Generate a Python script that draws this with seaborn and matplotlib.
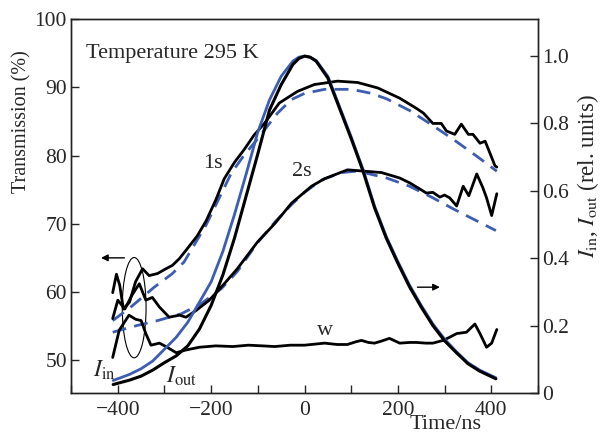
import numpy as np
import pandas as pd
import seaborn as sns
import matplotlib.pyplot as plt
from matplotlib.patches import Ellipse
from matplotlib.ticker import MultipleLocator, FixedLocator, FixedFormatter

# pulse shapes, right axis (rel. units)
t_pulse = [-410, -375, -350, -325, -300, -275, -250, -225, -200, -175, -150, -125, -100,
           -75, -50, -25, -12, 0, 12, 25, 50, 75, 100, 125, 150, 175, 200, 225, 250, 275, 300,
           325, 350, 375, 410]
i_in = [0.037, 0.055, 0.072, 0.095, 0.13, 0.165, 0.21, 0.27, 0.33, 0.42, 0.53, 0.65, 0.775,
        0.87, 0.94, 0.985, 0.997, 1.0, 0.996, 0.987, 0.94, 0.85, 0.76, 0.665, 0.555, 0.465,
        0.39, 0.32, 0.26, 0.205, 0.16, 0.123, 0.09, 0.068, 0.045]
i_out = [0.025, 0.038, 0.05, 0.068, 0.09, 0.11, 0.14, 0.19, 0.26, 0.35, 0.46, 0.585, 0.71,
         0.84, 0.915, 0.975, 0.993, 1.0, 0.997, 0.985, 0.935, 0.845, 0.755, 0.66, 0.55, 0.46,
         0.385, 0.315, 0.255, 0.2, 0.155, 0.12, 0.087, 0.065, 0.042]

# transmission, left axis (%)
t_1s = [-411, -403, -396, -388, -375, -362, -347, -333, -315, -297, -283, -268, -254, -230,
        -211, -190, -172, -150, -129, -108, -86, -54, -15, 21, 71, 114, 157, 204, 240, 255,
        275, 293, 304, 322, 336, 351, 361, 376, 387, 397, 408, 412]
T_1s = [59.9, 62.6, 61.0, 57.5, 58.5, 61.5, 63.4, 62.4, 62.7, 63.4, 63.9, 64.9, 66.1, 68.2,
        70.4, 73.5, 76.6, 79.0, 80.9, 83.0, 84.7, 87.7, 89.4, 90.4, 90.9, 90.7, 89.9, 88.4,
        86.9, 86.2, 84.7, 84.7, 83.6, 83.1, 84.6, 83.1, 83.1, 81.8, 82.1, 80.4, 78.5, 78.3]
t_1fit = [-411, -372, -322, -283, -258, -211, -157, -130, -101, -58, -28, 0, 43, 101, 144,
          176, 225, 268, 318, 369, 412]
T_1fit = [55.8, 57.8, 60.7, 62.7, 64.4, 69.8, 77.4, 80.0, 82.4, 86.2, 88.2, 89.1, 89.7, 89.7,
          89.1, 88.3, 86.6, 84.7, 82.4, 79.9, 77.7]

t_2s = [-411, -400, -385, -370, -354, -340, -326, -311, -290, -268, -254, -232, -204, -172,
        -144, -101, -64, -28, 15, 43, 92, 129, 165, 204, 225, 247, 261, 275, 290, 300, 311,
        326, 340, 352, 369, 382, 390, 401, 412]
T_2s = [56.1, 58.8, 57.5, 59.5, 61.2, 58.8, 59.2, 57.8, 56.3, 56.6, 56.3, 57.3, 58.8, 61.2,
        63.4, 67.3, 70.0, 73.0, 75.5, 76.6, 77.9, 77.7, 77.5, 76.7, 76.0, 75.1, 74.5, 74.6,
        73.9, 74.2, 73.8, 72.6, 75.5, 74.1, 77.3, 75.3, 73.8, 71.2, 74.4]
t_2fit = [-411, -358, -315, -264, -221, -178, -144, -101, -64, -28, 0, 36, 80, 110, 133, 176,
          225, 275, 318, 361, 410]
T_2fit = [54.1, 55.1, 55.8, 56.8, 58.3, 60.5, 63.0, 67.2, 70.2, 72.8, 74.6, 76.4, 77.5, 77.7,
          77.4, 76.7, 75.5, 73.8, 72.2, 70.7, 69.0]

t_w = [-411, -397, -376, -362, -350, -340, -329, -311, -297, -275, -254, -225, -190, -154,
       -120, -90, -64, -30, 0, 43, 70, 92, 110, 122, 137, 150, 165, 182, 204, 225, 240, 260,
       275, 297, 312, 326, 347, 365, 376, 390, 401, 412]
T_w = [50.4, 54.4, 56.6, 56.0, 55.8, 53.9, 52.2, 52.5, 52.0, 51.1, 51.5, 51.9, 52.1, 52.0,
       52.2, 52.1, 52.0, 52.2, 52.2, 52.5, 52.3, 52.3, 52.7, 52.9, 52.6, 52.5, 52.8, 53.2,
       52.5, 52.6, 52.6, 52.5, 52.5, 52.9, 53.4, 53.9, 54.1, 55.3, 53.9, 51.9, 52.5, 54.5]

blue = "#3d5db0"

sns.set_style("ticks")
plt.rcParams["font.family"] = ["Liberation Serif", "DejaVu Serif"]
plt.rcParams["mathtext.fontset"] = "stix"
plt.rcParams["font.size"] = 15

fig, ax = plt.subplots(figsize=(6.03, 4.43), dpi=100)
fig.subplots_adjust(left=0.118, right=0.892, bottom=0.113, top=0.957)

sns.lineplot(x=t_1fit, y=T_1fit, ax=ax, color=blue, lw=2.0, estimator=None)
ax.lines[-1].set_dashes([5, 3])
sns.lineplot(x=t_2fit, y=T_2fit, ax=ax, color=blue, lw=2.0, estimator=None)
ax.lines[-1].set_dashes([5, 3])
sns.lineplot(x=t_1s, y=T_1s, ax=ax, color="black", lw=2.0, estimator=None)
sns.lineplot(x=t_2s, y=T_2s, ax=ax, color="black", lw=2.0, estimator=None)
sns.lineplot(x=t_w, y=T_w, ax=ax, color="black", lw=2.0, estimator=None)

ax.set_xlim(-500, 500)
ax.set_ylim(45.2, 100)
ax.xaxis.set_major_locator(MultipleLocator(200))
ax.xaxis.set_minor_locator(MultipleLocator(100))
ax.yaxis.set_major_locator(MultipleLocator(10))
ax.tick_params(which="both", direction="in", length=6, width=1, pad=3, labelsize=15.5)
ax.tick_params(axis="x", pad=6)
ax.set_xlabel("Time/ns", fontsize=16)
ax.set_ylabel("Transmission (%)", fontsize=14.5)
ax.xaxis.set_label_coords(0.803, -0.06)
ax.yaxis.set_label_coords(-0.084, 0.725)
ax.xaxis.set_major_formatter(plt.FuncFormatter(lambda v, p: f"{int(v)}".replace("-", "\u2212")))

ax2 = ax.twinx()
sns.lineplot(x=t_pulse, y=i_in, ax=ax2, color=blue, lw=2.0, estimator=None)
sns.lineplot(x=t_pulse, y=i_out, ax=ax2, color="black", lw=2.2, estimator=None)
ax2.set_ylim(0, 1.11)
ax2.yaxis.set_major_locator(FixedLocator([0, 0.2, 0.4, 0.6, 0.8, 1.0]))
ax2.yaxis.set_major_formatter(FixedFormatter(["0", "0.2", "0.4", "0.6", "0.8", "1.0"]))
ax2.tick_params(direction="in", length=6, width=1, pad=3, labelsize=15.5)
ax2.set_ylabel(r"$I_{\rm in}$, $I_{\rm out}$ (rel. units)", fontsize=16.5)
ax2.yaxis.set_label_coords(1.08, 0.58)

for a in (ax, ax2):
    for s in a.spines.values():
        s.set_linewidth(1.0)
        s.set_color("#222222")

ax.text(-468, 95.0, "Temperature 295 K", fontsize=16, va="center", ha="left")
ax.text(-197, 78.8, "1s", fontsize=16, va="center", ha="center")
ax.text(-6, 77.6, "2s", fontsize=16, va="center", ha="center")
ax.text(43, 54.3, "w", fontsize=16, va="center", ha="center")
ax.text(-453, 48.5, r"$I_{\rm in}$", fontsize=17, va="center", ha="left")
ax.text(-296, 47.6, r"$I_{\rm out}$", fontsize=17, va="center", ha="left")

ax.add_patch(Ellipse((-365, 57.7), 51, 14.7, fill=False, lw=0.8, color="black"))
ax.annotate("", xy=(-442, 65.0), xytext=(-380, 65.0),
            arrowprops=dict(arrowstyle="-|>", color="black", lw=1, mutation_scale=10))
ax.annotate("", xy=(296, 60.7), xytext=(236, 60.7),
            arrowprops=dict(arrowstyle="-|>", color="black", lw=1, mutation_scale=10))

plt.savefig("out.png", dpi=100)
